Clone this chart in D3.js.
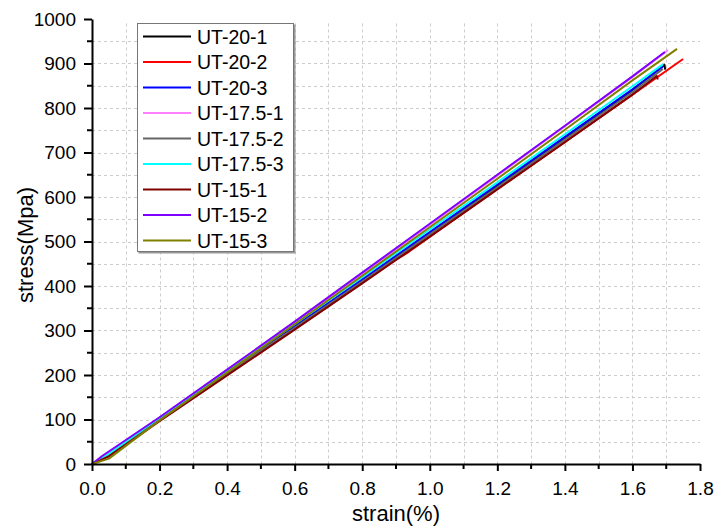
<!DOCTYPE html>
<html>
<head>
<meta charset="utf-8">
<script src="https://cdn.jsdelivr.net/npm/d3@7"></script>
<style>
	body { margin: 0; background: #fff; }
	text { font-family: Arial, "Liberation Sans", sans-serif; fill: #000; }
</style>
</head>
<body>
<div id="chart"></div>
<script>
// series names and colours, in legend order
var seriesNames = ['UT-20-1', 'UT-20-2', 'UT-20-3', 'UT-17.5-1', 'UT-17.5-2', 'UT-17.5-3', 'UT-15-1', 'UT-15-2', 'UT-15-3'];
var seriesColors = ['#000000', '#ff0000', '#0000ff', '#ff80ff', '#666666', '#00ffff', '#800000', '#8000ff', '#808000'];

// strain (%) / stress (MPa) pairs
var ut20_1 = [[0, 0], [0.05, 20], [0.2, 100], [0.4, 205], [0.6, 308], [0.8, 413], [1.0, 518], [1.2, 625], [1.4, 733], [1.6, 840], [1.695, 897], [1.697, 886]];
var ut20_2 = [[0, 0], [0.05, 18], [0.2, 98], [0.4, 202], [0.6, 305], [0.8, 410], [0.9, 460], [0.92, 468], [0.94, 478], [1.2, 618], [1.4, 724], [1.6, 830], [1.75, 910]];
var ut20_3 = [[0, 0], [0.05, 21], [0.2, 101], [0.4, 206], [0.6, 310], [0.8, 415], [1.0, 521], [1.2, 628], [1.4, 735], [1.6, 842], [1.69, 893]];
var ut175_1 = [[0, 0], [0.05, 24], [0.2, 104], [0.4, 211], [0.6, 318], [0.8, 427], [1.0, 537], [1.2, 648], [1.4, 759], [1.6, 870], [1.705, 930]];
var ut175_2 = [[0, 0], [0.05, 20], [0.2, 99], [0.4, 203], [0.6, 306], [0.8, 410], [1.0, 516], [1.2, 622], [1.4, 729], [1.6, 836], [1.69, 888]];
var ut175_3 = [[0, 0], [0.05, 23], [0.2, 104], [0.4, 209], [0.6, 314], [0.8, 420], [1.0, 527], [1.2, 633], [1.4, 741], [1.6, 849], [1.69, 898]];
var ut15_1 = [[0, 0], [0.05, 17], [0.2, 96], [0.4, 199], [0.6, 302], [0.8, 406], [1.0, 511], [1.2, 617], [1.4, 723], [1.6, 830], [1.672, 872], [1.675, 864]];
var ut15_2 = [[0, 0], [0.03, 18], [0.2, 105], [0.4, 212], [0.6, 320], [0.8, 430], [1.0, 540], [1.2, 650], [1.4, 760], [1.6, 871], [1.696, 926]];
var ut15_3 = [[0, 0], [0.05, 12], [0.2, 98], [0.4, 206], [0.6, 314], [0.8, 423], [1.0, 532], [1.2, 641], [1.4, 751], [1.6, 862], [1.732, 933]];
var seriesData = [ut20_1, ut20_2, ut20_3, ut175_1, ut175_2, ut175_3, ut15_1, ut15_2, ut15_3];

// axis ticks
var xTicks = [0, 0.2, 0.4, 0.6, 0.8, 1.0, 1.2, 1.4, 1.6, 1.8];
var xMinor = [0.1, 0.3, 0.5, 0.7, 0.9, 1.1, 1.3, 1.5, 1.7];
var yTicks = [0, 100, 200, 300, 400, 500, 600, 700, 800, 900, 1000];
var yMinor = [50, 150, 250, 350, 450, 550, 650, 750, 850, 950];

var width = 715, height = 528,
	plotLeft = 92, plotRight = 700, plotTop = 19, plotBottom = 464;

var svg = d3.select('#chart').append('svg')
		.attr('width', width)
		.attr('height', height);

var x = d3.scaleLinear().domain([0, 1.8]).range([plotLeft, plotRight]);
var y = d3.scaleLinear().domain([0, 1000]).range([plotBottom, plotTop]);

// dashed grid on every major and minor tick
var grid = svg.append('g')
		.attr('stroke', '#cccccc')
		.attr('stroke-width', 1)
		.attr('stroke-dasharray', '3,3');

grid.selectAll('.vgrid')
		.data(xTicks.concat(xMinor).filter(function(d) { return d > 0 && d < 1.8; }))
	.enter().append('line')
		.attr('x1', function(d) { return Math.round(x(d)) + 0.5; })
		.attr('x2', function(d) { return Math.round(x(d)) + 0.5; })
		.attr('y1', y(990))
		.attr('y2', plotBottom);

grid.selectAll('.hgrid')
		.data(yTicks.concat(yMinor).filter(function(d) { return d > 0 && d < 1000; }))
	.enter().append('line')
		.attr('x1', plotLeft)
		.attr('x2', plotRight)
		.attr('y1', function(d) { return Math.round(y(d)) + 0.5; })
		.attr('y2', function(d) { return Math.round(y(d)) + 0.5; });

// data lines
var line = d3.line()
		.x(function(d) { return x(d[0]); })
		.y(function(d) { return y(d[1]); });

svg.selectAll('.series')
		.data(seriesData)
	.enter().append('path')
		.attr('class', 'series')
		.attr('d', line)
		.attr('fill', 'none')
		.attr('stroke', function(d, i) { return seriesColors[i]; })
		.attr('stroke-width', 2)
		.attr('stroke-linejoin', 'round');

// axes
var xAxis = svg.append('g')
		.attr('class', 'axis')
		.attr('transform', 'translate(0,' + plotBottom + ')')
		.call(d3.axisBottom(x).tickValues(xTicks).tickFormat(d3.format('.1f'))
			.tickSize(7).tickSizeOuter(0).tickPadding(11));

xAxis.selectAll('.minor')
		.data(xMinor)
	.enter().append('line')
		.attr('class', 'minor')
		.attr('x1', function(d) { return x(d); })
		.attr('x2', function(d) { return x(d); })
		.attr('y2', 5);

var yAxis = svg.append('g')
		.attr('class', 'axis')
		.attr('transform', 'translate(' + plotLeft + ',0)')
		.call(d3.axisLeft(y).tickValues(yTicks).tickFormat(d3.format('d'))
			.tickSize(8).tickSizeOuter(0).tickPadding(8));

yAxis.selectAll('.minor')
		.data(yMinor)
	.enter().append('line')
		.attr('class', 'minor')
		.attr('y1', function(d) { return y(d); })
		.attr('y2', function(d) { return y(d); })
		.attr('x2', -5);

svg.selectAll('.axis .domain, .axis line')
		.attr('stroke', '#000')
		.attr('stroke-width', 2);

svg.selectAll('.tick text')
		.style('font-size', '19px')
		.style('font-family', 'Arial, "Liberation Sans", sans-serif');

// axis titles
svg.append('text')
		.attr('x', (plotLeft + plotRight) / 2)
		.attr('y', 521)
		.attr('text-anchor', 'middle')
		.style('font-size', '22px')
		.text('strain(%)');

svg.append('text')
		.attr('transform', 'translate(33,245) rotate(-90)')
		.attr('text-anchor', 'middle')
		.style('font-size', '22px')
		.text('stress(Mpa)');

// legend
var legend = svg.append('g');

legend.append('rect')
		.attr('x', 138.5)
		.attr('y', 24.5)
		.attr('width', 157)
		.attr('height', 229)
		.attr('fill', '#999');

legend.append('rect')
		.attr('x', 137.5)
		.attr('y', 23.5)
		.attr('width', 156)
		.attr('height', 228)
		.attr('fill', '#fff')
		.attr('stroke', '#777')
		.attr('stroke-width', 1);

var rows = legend.selectAll('.entry')
		.data(seriesNames)
	.enter().append('g')
		.attr('class', 'entry')
		.attr('transform', function(d, i) { return 'translate(0,' + (36.5 + i * 25.5) + ')'; });

rows.append('line')
		.attr('x1', 143)
		.attr('x2', 191)
		.attr('stroke', function(d, i) { return seriesColors[i]; })
		.attr('stroke-width', 2);

rows.append('text')
		.attr('x', 197)
		.attr('dy', '0.36em')
		.style('font-size', '19.5px')
		.text(function(d) { return d; });
</script>
</body>
</html>
